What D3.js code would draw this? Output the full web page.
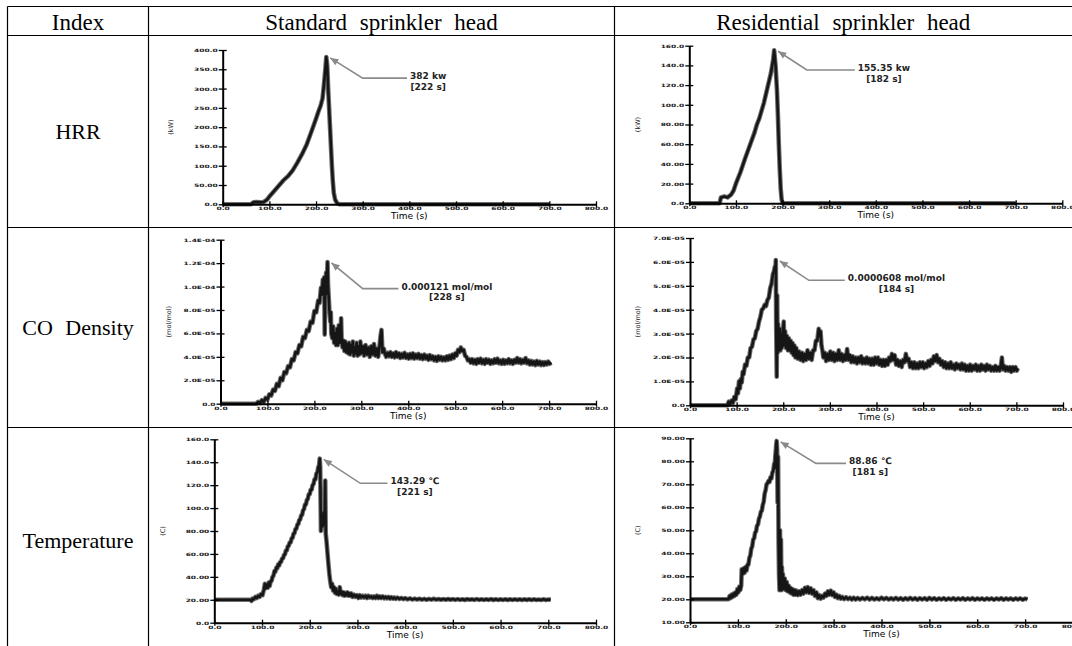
<!DOCTYPE html>
<html>
<head>
<meta charset="utf-8">
<script src="https://cdn.jsdelivr.net/npm/d3@7"></script>
<style>
  body { margin: 0; background: #fff; }
</style>
</head>
<body>
<svg id="chart" width="1072" height="646"></svg>
<script>
// table text
const headers = ['Index', 'Standard sprinkler head', 'Residential sprinkler head']
const rowLabels = ['HRR', 'CO Density', 'Temperature']

// x ticks shared by all panels (s)
const timeTicks = [0, 100, 200, 300, 400, 500, 600, 700, 800]

// y ticks
const hrrStandardTicks = [0, 50, 100, 150, 200, 250, 300, 350, 400]
const hrrResidentialTicks = [0, 20, 40, 60, 80, 100, 120, 140, 160]
const coStandardTicks = [0, 2, 4, 6, 8, 10, 12, 14] // x 1E-05 mol/mol
const coResidentialTicks = [0, 1, 2, 3, 4, 5, 6, 7] // x 1E-05 mol/mol
const tempStandardTicks = [0, 20, 40, 60, 80, 100, 120, 140, 160]
const tempResidentialTicks = [10, 20, 30, 40, 50, 60, 70, 80, 90]

// HRR (kW), [time s, value]
const hrrStandard = [[0,0],[60,0],[66,5],[72,6],[80,5],[88,6],[95,12],[100,20],[110,34],[120,48],[130,62],[140,73],[150,88],[160,108],[170,130],[180,155],[190,188],[200,222],[205,240],[210,256],[214,275],[217,310],[220,350],[222,382],[224,360],[226,300],[228,250],[230,200],[232,150],[234,100],[236,60],[238,30],[241,12],[245,3],[250,0],[700,0]]
const hrrResidential = [[0,0],[65,0],[68,6],[75,7],[82,6],[90,9],[95,13],[100,20],[110,32],[120,46],[130,59],[140,72],[145,80],[150,86],[160,102],[170,122],[175,132],[180,146],[182,155.35],[185,140],[188,115],[190,90],[192,60],[194,35],[196,15],[198,4],[200,0],[700,0]]

// CO density (x 1E-05 mol/mol)
const coStandard = [[0,0],[76,0],[80,0.15],[84,0.05],[88,0.3],[92,0.15],[96,0.5],[100,0.35],[104,0.8],[108,0.7],[112,1.2],[116,1.1],[120,1.7],[124,1.5],[128,2.2],[132,2.0],[136,2.7],[140,2.6],[144,3.2],[148,3.1],[152,3.8],[156,3.7],[160,4.4],[164,4.3],[168,5.0],[172,4.9],[176,5.7],[180,5.6],[184,6.3],[188,6.2],[192,7.0],[196,6.9],[200,7.9],[204,7.8],[208,8.8],[211,8.6],[214,9.9],[216,9.3],[218,10.6],[220,9.6],[221,10.8],[222,5.9],[223,9.2],[225,11.2],[226,9.4],[228,12.1],[229,10.2],[230,9.5],[232,8.0],[234,7.0],[235,7.8],[236,6.0],[238,5.6],[240,6.6],[242,5.2],[244,6.0],[246,5.0],[248,6.4],[250,5.0],[252,6.7],[254,5.2],[256,5.8],[257,7.3],[258,5.6],[260,4.8],[262,5.4],[264,4.5],[266,5.3],[268,4.4],[270,5.1],[272,4.3],[274,5.2],[276,4.2],[278,5.0],[280,4.4],[282,5.3],[284,4.1],[286,4.8],[288,4.3],[290,5.2],[292,4.1],[294,4.9],[296,4.2],[298,5.3],[300,4.3],[303,4.9],[306,4.1],[309,5.0],[312,4.2],[315,4.8],[318,4.0],[321,4.9],[324,4.2],[327,5.1],[330,4.1],[333,4.7],[336,4.0],[339,5.0],[341,5.8],[343,6.3],[345,4.4],[348,4.7],[350,4.3],[353,4.0],[356,4.35],[359,4.05],[362,4.4],[365,4.0],[368,4.3],[371,3.95],[374,4.4],[377,4.0],[380,4.3],[383,3.9],[386,4.25],[389,3.95],[392,4.35],[395,3.9],[398,4.2],[401,3.85],[404,4.25],[407,3.9],[410,4.3],[413,3.85],[416,4.2],[419,3.9],[422,4.25],[425,3.85],[428,4.15],[431,3.8],[434,4.2],[437,3.85],[440,4.1],[443,3.75],[446,4.15],[449,3.8],[452,4.05],[455,3.7],[458,4.0],[461,3.65],[464,4.05],[467,3.75],[470,4.0],[473,3.7],[476,3.95],[479,3.7],[482,4.05],[485,3.75],[488,4.1],[491,3.8],[494,4.2],[497,3.9],[500,4.3],[503,4.1],[506,4.6],[509,4.4],[512,4.8],[515,4.5],[518,4.6],[521,4.1],[524,4.0],[527,3.7],[530,3.8],[533,3.5],[536,3.8],[539,3.45],[542,3.75],[545,3.4],[548,3.8],[551,3.5],[554,3.85],[557,3.45],[560,3.75],[563,3.4],[566,3.8],[569,3.5],[572,3.75],[575,3.4],[578,3.7],[581,3.45],[584,3.8],[587,3.5],[590,3.85],[593,3.45],[596,3.7],[599,3.4],[602,3.75],[605,3.4],[608,3.7],[611,3.45],[614,3.8],[617,3.45],[620,3.7],[623,3.4],[626,3.75],[629,3.5],[632,3.9],[635,3.5],[638,3.8],[641,3.45],[644,3.75],[647,3.5],[650,3.9],[653,3.45],[656,3.7],[659,3.35],[662,3.65],[665,3.35],[668,3.6],[671,3.3],[674,3.65],[677,3.35],[680,3.6],[683,3.3],[686,3.55],[689,3.3],[692,3.55],[695,3.35],[698,3.6],[701,3.4],[705,3.5]]
const coResidential = [[0,0],[80,0],[83,0.15],[86,0.05],[89,0.2],[92,0.1],[95,0.35],[98,0.25],[101,0.7],[103,0.5],[105,1.0],[107,0.7],[109,1.1],[111,0.95],[113,1.4],[115,1.3],[118,1.7],[121,1.65],[124,2.0],[127,2.0],[130,2.4],[133,2.45],[136,2.75],[139,2.8],[142,3.1],[145,3.2],[148,3.5],[151,3.7],[154,4.0],[157,4.05],[160,4.2],[163,4.15],[166,4.4],[169,4.5],[172,4.9],[175,5.1],[178,5.5],[180,5.6],[182,5.8],[183,5.6],[184,6.08],[185,3.0],[186,1.2],[187,4.6],[188,2.2],[189,3.4],[190,2.3],[191,3.0],[192,2.4],[193,3.2],[194,2.3],[195,2.9],[197,2.4],[199,3.0],[201,3.5],[202,2.5],[204,3.1],[206,2.4],[208,2.9],[210,2.3],[212,2.8],[214,2.3],[216,2.7],[218,2.2],[220,2.6],[222,2.1],[224,2.5],[226,2.0],[228,2.4],[231,1.95],[234,2.25],[237,1.9],[240,2.2],[243,1.85],[246,2.15],[249,1.9],[252,2.3],[255,1.95],[258,2.2],[261,1.9],[264,2.3],[267,2.3],[270,2.7],[273,2.7],[276,3.2],[278,2.9],[280,3.1],[282,2.5],[284,2.3],[286,2.0],[289,2.2],[292,1.85],[295,2.15],[298,1.9],[301,2.25],[304,1.9],[307,2.2],[310,1.85],[313,2.15],[316,1.9],[319,2.3],[322,1.9],[325,2.15],[328,1.85],[331,2.1],[334,1.9],[337,2.35],[340,1.9],[343,2.1],[346,1.8],[349,2.05],[352,1.8],[355,2.0],[358,1.75],[361,2.0],[364,1.8],[367,2.05],[370,1.75],[373,1.95],[376,1.75],[379,2.0],[382,1.75],[385,1.95],[388,1.7],[391,1.95],[394,1.7],[397,2.0],[400,1.75],[403,2.0],[406,1.7],[409,1.9],[412,1.65],[415,1.9],[418,1.65],[421,1.9],[424,1.7],[427,2.0],[430,1.85],[433,2.15],[436,1.9],[439,2.1],[442,1.7],[445,1.9],[448,1.65],[451,1.85],[454,1.6],[457,1.9],[460,1.8],[463,2.15],[466,1.85],[469,1.95],[472,1.6],[475,1.8],[478,1.55],[481,1.8],[484,1.55],[487,1.75],[490,1.55],[493,1.8],[496,1.6],[499,1.8],[502,1.55],[505,1.75],[508,1.6],[511,1.85],[514,1.65],[517,1.9],[520,1.75],[523,2.05],[526,1.85],[529,2.1],[532,1.8],[535,1.95],[538,1.7],[541,1.85],[544,1.6],[547,1.8],[550,1.55],[553,1.75],[556,1.55],[559,1.8],[562,1.55],[565,1.7],[568,1.5],[571,1.75],[574,1.55],[577,1.7],[580,1.5],[583,1.75],[586,1.5],[589,1.7],[592,1.45],[595,1.65],[598,1.45],[601,1.7],[604,1.45],[607,1.65],[610,1.5],[613,1.7],[616,1.45],[619,1.65],[622,1.45],[625,1.7],[628,1.5],[631,1.65],[634,1.45],[637,1.7],[640,1.5],[643,1.65],[646,1.45],[649,1.6],[652,1.45],[655,1.65],[658,1.45],[661,1.6],[664,1.45],[667,1.7],[669,2.0],[671,1.5],[674,1.65],[677,1.45],[680,1.6],[683,1.45],[686,1.6],[689,1.4],[692,1.6],[695,1.45],[698,1.6],[701,1.45],[703,1.55]]

// Temperature (C)
const tempStandard = [[0,20],[75,20],[78,19],[80,21],[83,20.5],[86,22.5],[89,21.5],[92,23.5],[95,22.5],[98,25],[101,24],[104,29],[106,34],[108,30],[110,33],[112,30.5],[114,35],[116,32],[118,36],[120,36.5],[122,40],[124,41],[126,45],[128,44.5],[130,48],[132,47.5],[134,51],[136,50],[138,53],[140,53],[142,56],[144,56],[146,59],[148,59.5],[150,63],[152,63],[154,66.5],[156,67],[158,70],[160,70],[162,73.5],[164,74],[166,77.5],[168,78],[170,81.5],[172,82],[174,85.5],[176,86],[178,89.5],[180,90],[182,93.5],[184,94],[186,98],[188,99],[190,103],[192,103],[194,107],[196,108],[198,112],[200,112],[202,116],[204,116],[206,120],[208,121],[210,125],[212,125],[214,130],[216,131],[218,136],[219,135],[221,143.29],[222,136],[223.5,80],[225,92],[227,84],[229,96],[231,86],[232.5,124],[233.5,78],[235,72],[237,62],[239,52],[241,43],[243,36],[245,31],[247,34],[249,28],[251,31],[253,26],[255,29.5],[257,25],[259,27],[261,24.5],[263,31],[265,25],[267,27],[269,24],[271,26.5],[273,23.5],[275,26],[277,24],[279,26.5],[281,23.5],[283,25.5],[285,23.5],[287,25.5],[290,22.5],[293,24.5],[296,22.5],[299,24],[302,21.5],[305,24],[308,22],[311,23.5],[314,22],[317,23.5],[320,21.5],[323,23.5],[326,22],[329,23],[332,21.5],[335,23],[338,21.5],[341,23.5],[344,21.5],[347,23],[350,21.5],[353,23],[356,21.3],[359,22.5],[362,21.2],[365,22.5],[368,21],[371,22.3],[374,21],[377,22],[380,20.8],[384,22],[388,20.7],[392,21.6],[396,20.6],[400,21.4],[405,20.4],[410,21.2],[415,20.2],[420,21],[425,20.2],[430,20.9],[435,20.1],[440,20.8],[445,20],[450,20.8],[455,20.1],[460,20.9],[465,20.1],[470,20.7],[475,20],[480,20.6],[485,20],[490,20.7],[495,20],[500,20.6],[505,19.9],[510,20.6],[515,19.9],[520,20.5],[525,19.8],[530,20.6],[535,20],[540,20.5],[545,19.9],[550,20.6],[555,19.9],[560,20.5],[565,19.9],[570,20.5],[575,19.9],[580,20.6],[585,19.8],[590,20.5],[595,19.9],[600,20.4],[605,19.9],[610,20.5],[615,19.8],[620,20.4],[625,19.9],[630,20.5],[635,19.9],[640,20.4],[645,19.9],[650,20.4],[655,19.8],[660,20.4],[665,19.9],[670,20.4],[675,19.9],[680,20.3],[685,19.9],[690,20.4],[695,19.9],[700,20.3],[705,20.1]]
const tempResidential = [[0,20],[80,20],[83,21.5],[85,20.5],[87,22],[89,21],[91,22.5],[93,21.5],[95,23],[97,22],[99,24.5],[101,23],[103,25.5],[105,24],[107,26],[108,33],[110,31],[112,33.5],[114,31.5],[116,34],[118,32.5],[120,35],[122,35],[124,38],[126,39],[128,42],[130,43],[132,46],[134,46.5],[136,49],[138,49.5],[140,52],[142,52.5],[144,55],[146,56],[148,58],[150,58.5],[152,61],[154,62.5],[156,66],[158,67.5],[160,70],[162,70.5],[164,71.5],[166,71],[168,73],[170,72.5],[172,75],[174,76],[176,79],[177,77],[178,82],[179,84],[180,87],[181,88.86],[182,85],[183,62],[184,82],[185,45],[186,30],[187,24],[188,50],[189,27],[190,46],[191,24],[192,34],[193,25],[194,31],[196,24.5],[198,29],[200,24],[202,27.5],[204,23.5],[206,26],[208,23],[210,25],[212,22.5],[214,24.5],[216,22],[218,24],[220,22],[222,23.8],[225,21.8],[228,23.5],[231,22],[234,24],[237,22.5],[240,25],[243,23],[246,25.3],[249,22.8],[252,24.8],[255,22.5],[258,24],[261,21.5],[264,23],[267,20.5],[270,21.8],[273,20.3],[276,21.5],[279,20.8],[282,22.5],[285,21.5],[288,23.5],[291,22],[294,23.8],[297,21.8],[300,23],[303,21],[306,22],[309,20.5],[312,21.5],[315,20.3],[318,21],[322,20.1],[326,20.9],[330,20.1],[334,20.7],[338,19.9],[342,20.7],[346,19.9],[350,20.6],[355,19.9],[360,20.6],[365,20],[370,20.7],[375,19.9],[380,20.6],[385,19.9],[390,20.5],[395,19.9],[400,20.7],[405,20],[410,20.6],[415,19.9],[420,20.5],[425,19.9],[430,20.6],[435,19.9],[440,20.5],[445,19.8],[450,20.5],[455,19.9],[460,20.6],[465,19.9],[470,20.5],[475,19.8],[480,20.5],[485,19.9],[490,20.5],[495,19.8],[500,20.6],[505,19.9],[510,20.5],[515,19.8],[520,20.4],[525,19.9],[530,20.5],[535,19.8],[540,20.4],[545,19.9],[550,20.5],[555,19.8],[560,20.4],[565,19.9],[570,20.5],[575,19.8],[580,20.4],[585,19.9],[590,20.5],[595,19.8],[600,20.4],[605,19.9],[610,20.4],[615,19.8],[620,20.4],[625,19.9],[630,20.4],[635,19.8],[640,20.4],[645,19.9],[650,20.5],[655,19.8],[660,20.4],[665,19.9],[670,20.4],[675,19.8],[680,20.4],[685,19.9],[690,20.4],[695,19.8],[700,20.3],[705,20]]

// peak call-outs: peak point, elbow of the leader line, end of the leader (time)
const calloutHrrStandard = { peak: [222, 382], elbow: [300, 327], end: 395, text: ['382 kw', '[222 s]'] }
const calloutHrrResidential = { peak: [182, 155.35], elbow: [252, 135.3], end: 355, text: ['155.35 kw', '[182 s]'] }
const calloutCoStandard = { peak: [228, 12.1], elbow: [303, 9.82], end: 379, text: ['0.000121 mol/mol', '[228 s]'] }
const calloutCoResidential = { peak: [184, 6.08], elbow: [255, 5.23], end: 332, text: ['0.0000608 mol/mol', '[184 s]'] }
const calloutTempStandard = { peak: [221, 143.29], elbow: [306, 121.6], end: 363, text: ['143.29 \u2103', '[221 s]'] }
const calloutTempResidential = { peak: [181, 88.86], elbow: [263, 79.1], end: 326, text: ['88.86 \u2103', '[181 s]'] }

const svg = d3.select('#chart')

// ---- table frame ----
const colEdges = [7.5, 148.5, 614.5]
const rowEdges = [6.5, 35.5, 227.5, 427.5]
const tableRight = 1072
const tableBottom = 660

const frame = svg.append('g').attr('stroke', '#000').attr('stroke-width', 1.2)
rowEdges.forEach((y) => {
  frame.append('line').attr('x1', colEdges[0]).attr('x2', tableRight).attr('y1', y).attr('y2', y)
})
colEdges.forEach((x) => {
  frame.append('line').attr('x1', x).attr('x2', x).attr('y1', rowEdges[0]).attr('y2', tableBottom)
})

const colMid = [(colEdges[0] + colEdges[1]) / 2, (colEdges[1] + colEdges[2]) / 2, (colEdges[2] + tableRight) / 2]
headers.forEach((h, i) => {
  svg.append('text')
    .attr('x', colMid[i])
    .attr('y', (rowEdges[0] + rowEdges[1]) / 2 + 1)
    .attr('dy', '0.35em')
    .attr('text-anchor', 'middle')
    .attr('font-family', 'Liberation Serif, serif')
    .attr('font-size', 23)
    .attr('word-spacing', 7)
    .attr('fill', '#000')
    .text(h)
})
const rowMid = [131, 327, 540]
rowLabels.forEach((r, i) => {
  svg.append('text')
    .attr('x', colMid[0])
    .attr('y', rowMid[i])
    .attr('dy', '0.35em')
    .attr('text-anchor', 'middle')
    .attr('font-family', 'Liberation Serif, serif')
    .attr('font-size', 22)
    .attr('word-spacing', 7)
    .attr('fill', '#000')
    .text(r)
})

// arrow head for call-outs
svg.append('defs').append('marker')
  .attr('id', 'arrow')
  .attr('viewBox', '-1 -4 10 8')
  .attr('refX', 8)
  .attr('refY', 0)
  .attr('markerUnits', 'userSpaceOnUse')
  .attr('markerWidth', 10)
  .attr('markerHeight', 8)
  .attr('orient', 'auto')
  .append('path')
  .attr('d', 'M0,-3.5L8,0L0,3.5Z')
  .attr('fill', '#8a8a8a')

// tick label formats
const fmtNum = (v) => (v === 0 ? '0.0' : Math.abs(v) < 100 ? v.toFixed(2) : v.toFixed(1))
const fmtExp = (v) => {
  if (v === 0) return '0.0'
  const s = (v * 1e-5).toExponential(1).toUpperCase() // e.g. 2.0E-5
  return s.replace(/E([+-])(\d)$/, 'E$10$2')
}

const panels = [
  { data: hrrStandard, ticks: hrrStandardTicks, fmt: fmtNum, unit: '(kW)', call: calloutHrrStandard,
    x0: 222.7, x1: 596, y0: 204.3, y1: 50 },
  { data: hrrResidential, ticks: hrrResidentialTicks, fmt: fmtNum, unit: '(kW)', call: calloutHrrResidential,
    x0: 689.3, x1: 1062.3, y0: 203.3, y1: 45.7 },
  { data: coStandard, ticks: coStandardTicks, fmt: fmtExp, unit: '(mol/mol)', call: calloutCoStandard,
    x0: 220.5, x1: 596, y0: 403.7, y1: 239.7 },
  { data: coResidential, ticks: coResidentialTicks, fmt: fmtExp, unit: '(mol/mol)', call: calloutCoResidential,
    x0: 690, x1: 1063, y0: 405.3, y1: 238 },
  { data: tempStandard, ticks: tempStandardTicks, fmt: fmtNum, unit: '(C)', call: calloutTempStandard,
    x0: 214.3, x1: 596, y0: 622.7, y1: 439.3 },
  { data: tempResidential, ticks: tempResidentialTicks, fmt: fmtNum, unit: '(C)', call: calloutTempResidential,
    x0: 690, x1: 1073, y0: 622.3, y1: 438.3 },
]

panels.forEach((p) => {
  const xScale = d3.scaleLinear().domain([0, 800]).range([p.x0, p.x1])
  const yScale = d3.scaleLinear().domain(d3.extent(p.ticks)).range([p.y0, p.y1])
  const g = svg.append('g')

  // series: grey halo from the markers, dark line on top
  const line = d3.line().x((d) => xScale(d[0])).y((d) => yScale(d[1]))
  g.append('path').attr('d', line(p.data))
    .attr('fill', 'none').attr('stroke', '#6f6f6f').attr('stroke-width', 4.6)
    .attr('stroke-linejoin', 'round')
  g.append('path').attr('d', line(p.data))
    .attr('fill', 'none').attr('stroke', '#161616').attr('stroke-width', 2.6)
    .attr('stroke-linejoin', 'round')

  // y axis
  const yAxis = g.append('g')
    .attr('transform', `translate(${p.x0},0)`)
    .call(d3.axisLeft(yScale).tickValues(p.ticks).tickFormat(p.fmt).tickSizeInner(4).tickSizeOuter(0).tickPadding(1))
  yAxis.select('.domain').attr('stroke', '#000').attr('stroke-width', 2)
  yAxis.selectAll('.tick line').attr('x1', 4).attr('stroke', '#000').attr('stroke-width', 1.3)
  yAxis.selectAll('.tick text')
    .attr('font-family', 'DejaVu Sans, sans-serif')
    .attr('font-weight', 'bold')
    .attr('font-size', 7.5)
    .attr('fill', '#222')
    .attr('transform', 'scale(1,0.6)')

  // x axis
  const xAxis = g.append('g')
    .attr('transform', `translate(0,${p.y0})`)
    .call(d3.axisBottom(xScale).tickValues(timeTicks).tickFormat(fmtNum).tickSizeInner(3).tickSizeOuter(0).tickPadding(2))
  xAxis.select('.domain').attr('stroke', '#000').attr('stroke-width', 2)
  xAxis.selectAll('.tick line').attr('y1', -3).attr('stroke', '#000').attr('stroke-width', 1.3)
  xAxis.selectAll('.tick text')
    .attr('font-family', 'DejaVu Sans, sans-serif')
    .attr('font-weight', 'bold')
    .attr('font-size', 7.5)
    .attr('fill', '#222')
    .attr('transform', 'scale(1,0.6)')
    .attr('y', 5)

  g.append('text')
    .attr('x', (p.x0 + p.x1) / 2)
    .attr('y', p.y0 + 15)
    .attr('text-anchor', 'middle')
    .attr('font-family', 'DejaVu Sans, sans-serif')
    .attr('font-size', 9)
    .attr('fill', '#000')
    .text('Time (s)')

  g.append('text')
    .attr('transform', `translate(${p.x0 - 52},${(p.y0 + p.y1) / 2}) rotate(-90)`)
    .attr('text-anchor', 'middle')
    .attr('dy', '0.35em')
    .attr('font-family', 'DejaVu Sans, sans-serif')
    .attr('font-size', 6.5)
    .attr('fill', '#222')
    .text(p.unit)

  // call-out
  const c = p.call
  const tip = [xScale(c.peak[0]) + 4, yScale(c.peak[1]) + 1]
  const elbow = [xScale(c.elbow[0]), yScale(c.elbow[1])]
  const endX = xScale(c.end)
  g.append('path')
    .attr('d', `M${endX},${elbow[1]}L${elbow[0]},${elbow[1]}L${tip[0]},${tip[1]}`)
    .attr('fill', 'none')
    .attr('stroke', '#8a8a8a')
    .attr('stroke-width', 1.6)
    .attr('marker-end', 'url(#arrow)')

  const t1 = g.append('text')
    .attr('x', endX + 3)
    .attr('y', elbow[1] + 1)
    .attr('font-family', 'DejaVu Sans, sans-serif')
    .attr('font-weight', 'bold')
    .attr('font-size', 9)
    .attr('fill', '#222')
    .text(c.text[0])
  const w = t1.node().getComputedTextLength()
  g.append('text')
    .attr('x', endX + 3 + w / 2)
    .attr('y', elbow[1] + 11.5)
    .attr('text-anchor', 'middle')
    .attr('font-family', 'DejaVu Sans, sans-serif')
    .attr('font-weight', 'bold')
    .attr('font-size', 9)
    .attr('fill', '#222')
    .text(c.text[1])
})
</script>
</body>
</html>
